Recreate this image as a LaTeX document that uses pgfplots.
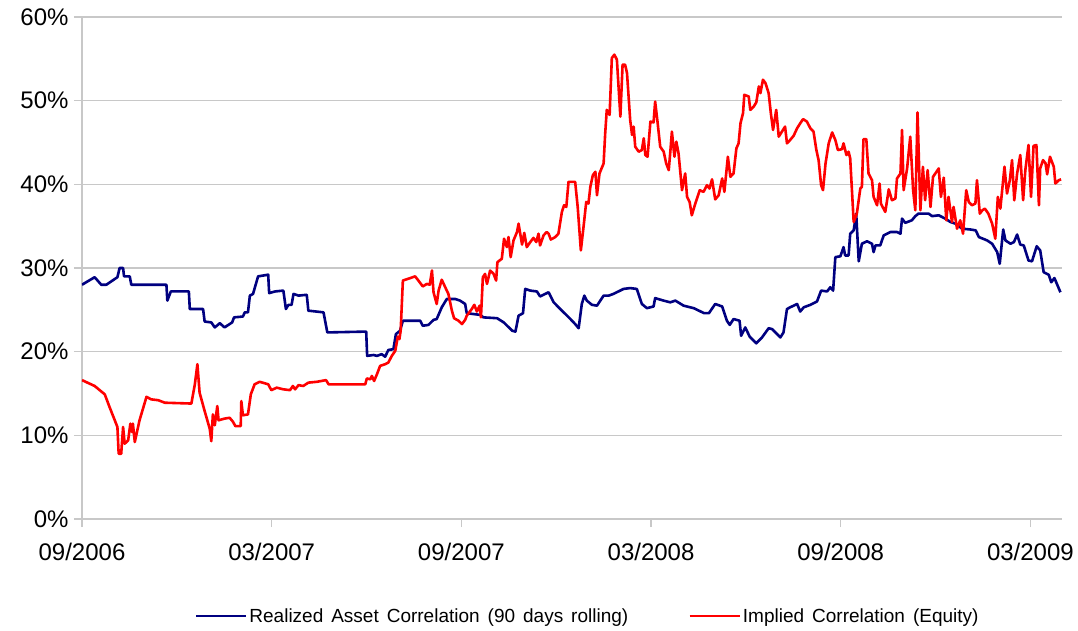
\documentclass[border=0pt]{standalone}
\usepackage{fontspec}
\setmainfont{Liberation Sans}
\usepackage{pgfplots}
\pgfplotsset{compat=1.18}
\usepackage{pgfplotstable}
\definecolor{navyline}{RGB}{0,0,128}
\definecolor{redline}{RGB}{255,0,0}
\definecolor{gridgray}{RGB}{200,200,200}
\newcommand\legfont{\fontsize{19}{22}\selectfont\spaceskip=0.42em plus 0.1em\relax}
\pgfplotstableread{
m v
0.00 28.0
0.40 28.9
0.61 28.0
0.77 28.0
1.12 28.9
1.19 30.0
1.30 30.0
1.33 29.0
1.51 29.0
1.56 28.0
2.67 28.0
2.70 26.1
2.81 27.2
3.38 27.2
3.41 25.1
3.83 25.1
3.88 23.6
4.09 23.5
4.20 22.9
4.36 23.4
4.51 22.9
4.75 23.5
4.81 24.1
5.09 24.2
5.15 24.7
5.25 24.7
5.31 26.7
5.41 26.9
5.57 29.0
5.89 29.2
5.92 27.0
6.11 27.2
6.37 27.3
6.45 25.1
6.53 25.6
6.63 25.6
6.69 26.9
6.85 26.7
7.11 26.8
7.16 24.9
7.64 24.7
7.76 22.3
8.99 22.4
9.02 19.5
9.22 19.6
9.33 19.5
9.48 19.7
9.59 19.4
9.69 20.2
9.85 20.3
9.93 22.1
10.06 22.5
10.15 23.7
10.70 23.7
10.78 23.1
10.96 23.2
11.12 23.8
11.22 23.9
11.38 25.3
11.54 26.3
11.80 26.3
11.96 26.1
12.12 25.7
12.17 24.6
12.38 24.5
12.59 24.4
12.70 24.1
13.13 24.0
13.34 23.5
13.61 22.5
13.71 22.4
13.81 24.3
13.95 24.6
14.02 27.5
14.18 27.3
14.39 27.2
14.49 26.6
14.76 27.1
14.92 25.9
15.13 25.1
15.45 23.9
15.60 23.3
15.71 22.8
15.81 25.7
15.89 26.7
15.97 26.1
16.13 25.6
16.29 25.5
16.50 26.7
16.66 26.7
16.81 26.9
17.13 27.5
17.34 27.6
17.55 27.5
17.71 25.7
17.87 25.2
18.08 25.4
18.13 26.4
18.40 26.1
18.61 25.9
18.77 26.1
19.03 25.5
19.35 25.2
19.68 24.6
19.83 24.6
20.03 25.7
20.25 25.4
20.40 23.7
20.49 23.2
20.61 23.9
20.80 23.7
20.85 21.9
20.98 22.9
21.12 21.8
21.33 21.0
21.51 21.7
21.72 22.8
21.83 22.7
22.09 21.7
22.19 22.3
22.30 25.1
22.40 25.3
22.62 25.7
22.72 24.8
22.83 25.3
23.04 25.6
23.25 26.0
23.38 27.3
23.57 27.2
23.67 27.7
23.76 27.3
23.83 31.3
23.99 31.4
24.09 32.5
24.14 31.5
24.25 31.5
24.30 34.1
24.41 34.5
24.49 36.5
24.57 30.8
24.67 32.9
24.83 33.2
24.99 32.9
25.04 31.9
25.10 32.7
25.25 32.7
25.36 33.9
25.57 34.3
25.78 34.3
25.89 34.1
25.94 35.9
26.04 35.4
26.25 35.7
26.36 36.2
26.46 36.5
26.78 36.5
26.89 36.2
27.10 36.3
27.31 35.9
27.47 35.5
27.63 35.3
27.84 34.7
28.11 34.6
28.27 34.5
28.37 33.7
28.63 33.3
28.79 32.9
28.95 31.9
29.03 30.5
29.14 34.6
29.21 33.3
29.37 32.9
29.48 33.1
29.58 34.0
29.68 32.8
29.79 32.7
29.94 30.9
30.05 30.8
30.20 32.6
30.31 32.1
30.42 29.5
30.58 29.2
30.66 28.3
30.76 28.8
30.95 27.1
}\realized
\pgfplotstableread{
m v
0.00 16.6
0.40 15.9
0.72 14.9
0.88 13.3
1.12 11.0
1.16 7.8
1.24 7.8
1.30 11.0
1.35 9.0
1.46 9.4
1.53 11.4
1.58 10.4
1.61 11.4
1.67 9.2
1.82 11.8
2.04 14.6
2.19 14.3
2.41 14.2
2.62 13.9
3.46 13.8
3.57 16.1
3.65 18.5
3.72 15.1
3.88 12.9
4.04 10.8
4.09 9.3
4.14 12.5
4.20 11.2
4.28 13.5
4.32 11.8
4.51 12.0
4.67 12.1
4.78 11.6
4.85 11.1
5.02 11.1
5.04 14.1
5.09 12.4
5.25 12.5
5.34 14.9
5.46 16.1
5.62 16.4
5.89 16.1
5.99 15.4
6.16 15.7
6.37 15.5
6.58 15.4
6.67 15.9
6.74 15.5
6.85 16.0
7.00 15.9
7.16 16.3
7.43 16.4
7.72 16.6
7.80 16.1
8.96 16.1
9.01 16.8
9.12 16.7
9.17 17.1
9.24 16.5
9.33 17.3
9.43 18.3
9.59 18.5
9.69 18.7
9.80 19.5
9.91 20.1
9.99 21.8
10.04 21.5
10.08 22.5
10.15 28.5
10.54 29.0
10.68 28.3
10.78 27.8
10.91 28.1
11.00 28.0
11.07 29.7
11.12 27.1
11.22 25.7
11.28 27.3
11.38 28.6
11.49 27.7
11.59 26.9
11.70 24.9
11.77 24.0
11.91 23.7
12.02 23.3
12.12 23.8
12.17 24.3
12.33 25.1
12.41 25.6
12.49 24.8
12.58 25.5
12.62 24.1
12.68 28.9
12.75 29.3
12.81 28.1
12.91 29.7
13.02 29.3
13.10 28.5
13.14 30.7
13.28 31.1
13.35 33.5
13.44 32.5
13.49 33.7
13.56 31.3
13.65 33.3
13.76 34.3
13.81 35.3
13.92 32.8
13.99 34.2
14.07 32.5
14.18 33.1
14.28 33.6
14.37 33.1
14.44 34.1
14.49 32.7
14.60 33.9
14.70 34.3
14.76 34.1
14.83 33.4
14.97 33.7
15.07 34.1
15.18 36.7
15.25 37.5
15.32 37.3
15.39 40.3
15.60 40.3
15.68 37.3
15.78 32.1
15.87 35.1
15.95 37.9
16.02 37.7
16.08 39.7
16.16 41.1
16.24 41.5
16.29 38.7
16.37 41.3
16.50 42.5
16.55 46.1
16.60 48.9
16.69 48.3
16.76 55.1
16.84 55.5
16.92 54.9
17.03 48.1
17.10 54.3
17.18 54.3
17.24 53.3
17.34 47.7
17.40 45.9
17.45 46.9
17.50 44.5
17.61 43.9
17.71 44.1
17.77 45.5
17.82 43.5
17.89 43.3
17.98 47.5
18.08 47.4
18.13 49.9
18.21 47.3
18.29 44.5
18.40 43.9
18.48 42.5
18.56 41.7
18.61 43.9
18.66 46.3
18.74 43.3
18.80 45.1
18.87 43.7
18.98 39.3
19.08 41.3
19.14 38.5
19.22 37.9
19.29 36.3
19.40 37.7
19.54 39.3
19.66 39.1
19.77 39.9
19.85 39.5
19.93 40.6
20.03 38.2
20.14 38.7
20.25 40.7
20.32 39.1
20.43 43.3
20.51 40.9
20.61 41.3
20.70 44.3
20.77 44.9
20.83 47.3
20.91 48.5
20.95 50.7
21.09 50.5
21.14 48.9
21.25 49.3
21.33 49.8
21.41 51.7
21.46 50.9
21.54 52.5
21.62 52.1
21.72 50.9
21.79 48.5
21.86 46.5
21.96 48.9
22.04 45.7
22.14 46.3
22.24 46.9
22.30 44.9
22.40 45.3
22.51 45.8
22.62 46.7
22.72 47.3
22.81 47.8
22.93 47.5
23.04 46.7
23.14 46.3
23.23 44.1
23.30 42.9
23.38 39.9
23.44 39.3
23.52 42.5
23.62 44.9
23.73 46.2
23.83 45.3
23.91 44.1
24.04 44.2
24.09 44.9
24.18 43.5
24.25 43.9
24.30 43.1
24.41 35.5
24.51 36.5
24.62 39.5
24.67 39.7
24.72 45.4
24.81 45.4
24.88 41.3
24.99 40.5
25.04 38.5
25.15 37.5
25.23 40.1
25.27 37.7
25.41 36.7
25.52 39.4
25.62 38.1
25.73 38.3
25.78 40.7
25.89 41.3
25.94 46.5
25.99 39.3
26.10 41.9
26.20 45.7
26.29 39.3
26.36 36.9
26.43 48.6
26.52 36.9
26.60 42.1
26.67 38.1
26.75 41.7
26.84 37.3
26.92 40.9
27.03 41.5
27.10 41.9
27.17 38.5
27.26 40.8
27.34 35.7
27.41 38.5
27.52 35.5
27.57 37.3
27.68 34.7
27.78 35.7
27.87 34.1
27.97 39.3
28.05 37.9
28.15 37.5
28.26 37.7
28.31 40.5
28.40 36.5
28.48 36.9
28.56 37.1
28.67 36.5
28.79 35.3
28.89 33.5
28.97 38.5
29.05 37.1
29.18 42.1
29.26 38.9
29.35 40.5
29.42 42.9
29.49 38.1
29.58 41.3
29.68 43.5
29.77 38.1
29.84 41.7
29.94 44.7
30.02 38.5
30.10 44.6
30.19 44.7
30.27 37.5
30.31 41.9
30.40 42.9
30.48 42.5
30.53 41.2
30.62 43.3
30.74 42.1
30.79 40.1
30.90 40.5
30.97 40.6
}\implied
\begin{document}
\begin{tikzpicture}
\path[use as bounding box] (-82pt,-111pt) rectangle (996pt,519pt);
\begin{axis}[
  at={(0pt,0pt)}, anchor=south west,
  scale only axis, width=980pt, height=502pt,
  xmin=0, xmax=31.0, ymin=0, ymax=60,
  axis x line*=bottom, axis y line*=left,
  axis line style={draw=gridgray, line width=1.5pt},
  xtick={0,6,12,18,24,30},
  xticklabels={09/2006,03/2007,09/2007,03/2008,09/2008,03/2009},
  ytick={0,10,20,30,40,50,60},
  yticklabels={0\%,10\%,20\%,30\%,40\%,50\%,60\%},
  tick align=outside,
  major tick length=8pt,
  tick style={draw=gridgray, line width=1.2pt},
  ymajorgrids, grid style={draw=gridgray, line width=1.5pt},
  ticklabel style={font=\fontsize{24}{28}\selectfont, text=black},
  xticklabel style={yshift=-13pt},
  yticklabel style={xshift=-2pt},
  legend style={at={(0.516,-0.193)}, anchor=center, draw=none, fill=none,
    legend columns=2, font=\legfont,
    nodes={inner xsep=2pt},
    /tikz/every even column/.append style={column sep=58pt}},
  legend image code/.code={\draw[#1] (0pt,0pt) -- (50pt,0pt);},
]
\addplot[navyline, line width=2.6pt, line join=round] table {\realized};
\addlegendentry{Realized Asset Correlation (90 days rolling)}
\addplot[redline, line width=2.6pt, line join=round] table {\implied};
\addlegendentry{Implied Correlation (Equity)}
\end{axis}
\end{tikzpicture}
\end{document}
